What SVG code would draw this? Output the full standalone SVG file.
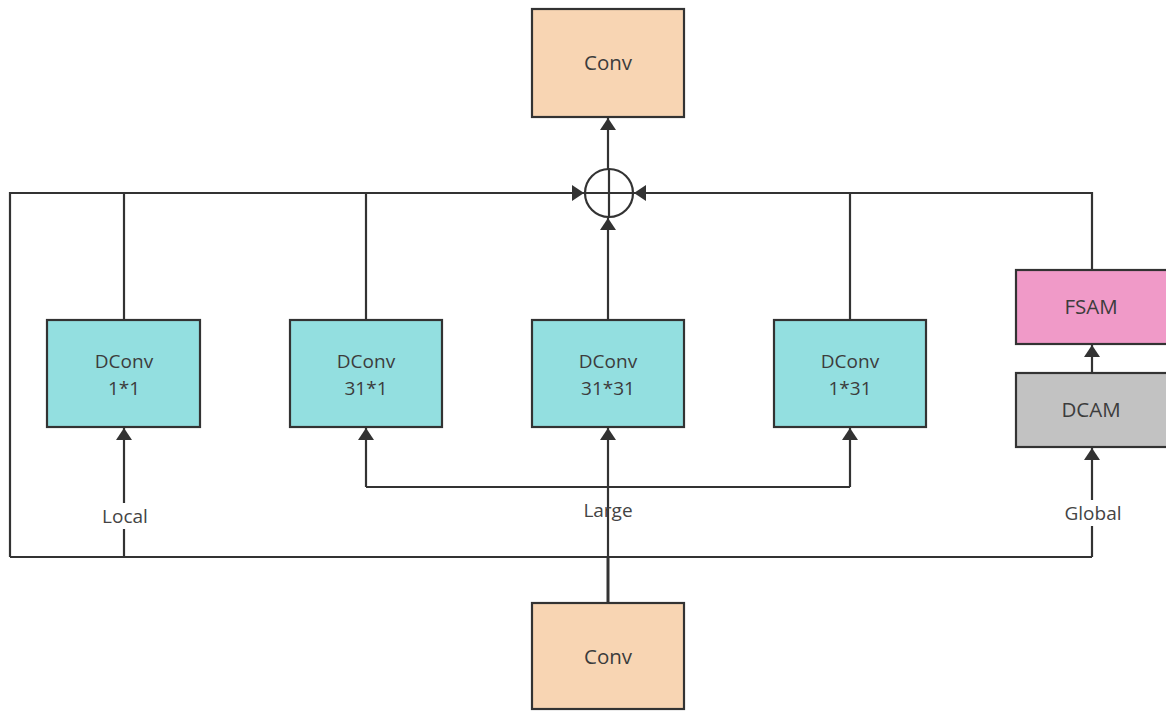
<svg xmlns="http://www.w3.org/2000/svg" width="1166" height="711" viewBox="0 0 1166 711">
<defs>
<marker id="ah" viewBox="0 0 12 16" refX="12" refY="8" markerWidth="12" markerHeight="16" markerUnits="userSpaceOnUse" orient="auto">
<path d="M0,0 L12,8 L0,16 z" fill="#333"/>
</marker>
<style>
.box{stroke:#333;stroke-width:2.2}
.conv{fill:#F8D5B3}
.dconv{fill:#93DFE0}
.fsam{fill:#F09AC8}
.dcam{fill:#C2C2C2}
.t{font-family:"Open Sans","Liberation Sans",sans-serif;font-size:20.5px;fill:#3c3c3c;text-anchor:middle}
.t2{font-family:"Open Sans","Liberation Sans",sans-serif;font-size:19px;fill:#3c3c3c;text-anchor:middle}
.lbl{font-family:"Open Sans","Liberation Sans",sans-serif;font-size:19px;fill:#444;text-anchor:middle}
.ln{fill:none;stroke:#333;stroke-width:2.2}
</style>
</defs>
<rect width="1166" height="711" fill="#fff"/>
<g id="connectors">
<path class="ln" d="M608,169 L608,118" marker-end="url(#ah)"/>
<path class="ln" d="M608,603 L608,557" style="stroke-width:3"/>
<path class="ln" d="M10,557 L1092,557"/>
<path class="ln" d="M10,557 L10,193 L584,193" marker-end="url(#ah)"/>
<path class="ln" d="M124,320 L124,193"/>
<path class="ln" d="M366,320 L366,193"/>
<path class="ln" d="M850,320 L850,193"/>
<path class="ln" d="M1092,270 L1092,193 L634,193" marker-end="url(#ah)"/>
<path class="ln" d="M608,320 L608,218" marker-end="url(#ah)"/>
<path class="ln" d="M124,557 L124,428" marker-end="url(#ah)"/>
<path class="ln" d="M1092,557 L1092,448" marker-end="url(#ah)"/>
<path class="ln" d="M1092,373 L1092,345" marker-end="url(#ah)"/>
<path class="ln" d="M608,557 L608,428" marker-end="url(#ah)"/>
<path class="ln" d="M366,487 L850,487"/>
<path class="ln" d="M366,487 L366,428" marker-end="url(#ah)"/>
<path class="ln" d="M850,487 L850,428" marker-end="url(#ah)"/>
<rect x="92" y="503" width="64" height="26" fill="#fff"/>
<text class="lbl" x="125" y="523">Local</text>
<rect x="1054" y="500" width="76" height="26" fill="#fff"/>
<text class="lbl" x="1093" y="520">Global</text>
<text class="lbl" x="608" y="517">Large</text>
</g>
<g id="sum">
<circle cx="609" cy="193" r="24" fill="#fff" stroke="#333" stroke-width="2.2"/>
<path class="ln" d="M585,193 L633,193 M609,169 L609,217"/>
</g>
<g id="conv-top">
<rect class="box conv" x="532" y="9" width="152" height="108"/>
<text class="t" x="608" y="70">Conv</text>
</g>
<g id="dconv-1x1">
<rect class="box dconv" x="47" y="320" width="153" height="107"/>
<text class="t2" x="124" y="368">DConv</text>
<text class="t2" x="124" y="395">1*1</text>
</g>
<g id="dconv-31x1">
<rect class="box dconv" x="290" y="320" width="152" height="107"/>
<text class="t2" x="366" y="368">DConv</text>
<text class="t2" x="366" y="395">31*1</text>
</g>
<g id="dconv-31x31">
<rect class="box dconv" x="532" y="320" width="152" height="107"/>
<text class="t2" x="608" y="368">DConv</text>
<text class="t2" x="608" y="395">31*31</text>
</g>
<g id="dconv-1x31">
<rect class="box dconv" x="774" y="320" width="152" height="107"/>
<text class="t2" x="850" y="368">DConv</text>
<text class="t2" x="850" y="395">1*31</text>
</g>
<g id="fsam">
<rect class="box fsam" x="1016" y="270" width="160" height="74"/>
<text class="t" x="1091" y="314">FSAM</text>
</g>
<g id="dcam">
<rect class="box dcam" x="1016" y="373" width="160" height="74"/>
<text class="t" x="1091" y="417">DCAM</text>
</g>
<g id="conv-bottom">
<rect class="box conv" x="532" y="603" width="152" height="106"/>
<text class="t" x="608" y="664">Conv</text>
</g>
</svg>
